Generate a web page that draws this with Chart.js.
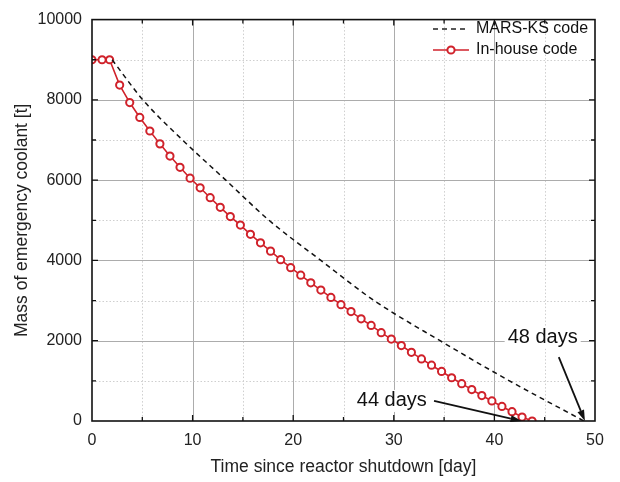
<!DOCTYPE html>
<html>
<head>
<meta charset="utf-8">
<script src="https://cdn.jsdelivr.net/npm/chart.js@4/dist/chart.umd.min.js"></script>
<style>
  html, body { margin: 0; padding: 0; background: #fff; }
  #wrap { width: 620px; height: 482px; }
</style>
</head>
<body>
<div id="wrap"><canvas id="chart1" width="620" height="482"></canvas></div>
<script>
// In-house code: one marker per time step
const inhouseDays = [0, 1, 1.75, 2.75, 3.75, 4.75, 5.75, 6.75, 7.75, 8.75, 9.75,
  10.75, 11.75, 12.75, 13.75, 14.75, 15.75, 16.75, 17.75, 18.75, 19.75,
  20.75, 21.75, 22.75, 23.75, 24.75, 25.75, 26.75, 27.75, 28.75, 29.75,
  30.75, 31.75, 32.75, 33.75, 34.75, 35.75, 36.75, 37.75, 38.75, 39.75,
  40.75, 41.75, 42.75, 43.75];
const inhouseMass = [9000, 9000, 9000, 8370, 7933, 7563, 7225, 6904, 6600, 6321, 6049,
  5810, 5563, 5323, 5094, 4880, 4650, 4438, 4232, 4018, 3820,
  3632, 3442, 3261, 3079, 2899, 2726, 2546, 2380, 2200, 2040,
  1880, 1711, 1547, 1390, 1234, 1078, 930, 782, 634, 500,
  363, 232, 99, 0];

// MARS-KS code (dashed curve)
const marsDays = [2, 5.06, 9.0, 13.3, 17.6, 22.75, 28.05, 34.6, 41.5, 48.9];
const marsMass = [9000, 8000, 7000, 6000, 5000, 4000, 3000, 2000, 1000, 0];

const seriesNames = ["MARS-KS code", "In-house code"];
const xTicks = [0, 10, 20, 30, 40, 50];
const yTicks = [0, 2000, 4000, 6000, 8000, 10000];

// annotation labels with arrow start/end (data units)
const notes = [
  { text: "48 days", tx: 44.8, ty: 2080, x1: 46.4, y1: 1590, x2: 49.0, y2: 0 },
  { text: "44 days", tx: 29.8, ty: 500, x1: 34.0, y1: 500, x2: 42.7, y2: 0 }
];

const RED = "#d0222b";
const FONT = "'Liberation Sans', Arial, sans-serif";

function toXY(xs, ys) {
  return xs.map((x, i) => ({ x: x, y: ys[i] }));
}

// grid, inward ticks, frame, legend and annotations
const decor = {
  id: "decor",
  beforeDatasetsDraw(chart) {
    const ctx = chart.ctx, a = chart.chartArea;
    const xs = chart.scales.x, ys = chart.scales.y;
    ctx.save();
    for (let v = 5; v < 50; v += 5) {
      const px = Math.round(xs.getPixelForValue(v)) + 0.5;
      const major = v % 10 === 0;
      ctx.strokeStyle = major ? "#acacac" : "#cfcfcf";
      ctx.setLineDash(major ? [] : [1.5, 2]);
      ctx.lineWidth = 1;
      ctx.beginPath(); ctx.moveTo(px, a.top); ctx.lineTo(px, a.bottom); ctx.stroke();
    }
    for (let v = 1000; v < 10000; v += 1000) {
      const py = Math.round(ys.getPixelForValue(v)) + 0.5;
      const major = v % 2000 === 0;
      ctx.strokeStyle = major ? "#acacac" : "#cfcfcf";
      ctx.setLineDash(major ? [] : [1.5, 2]);
      ctx.lineWidth = 1;
      ctx.beginPath(); ctx.moveTo(a.left, py); ctx.lineTo(a.right, py); ctx.stroke();
    }
    ctx.restore();
  },
  afterDatasetsDraw(chart) {
    const ctx = chart.ctx, a = chart.chartArea;
    const xs = chart.scales.x, ys = chart.scales.y;
    ctx.save();
    ctx.strokeStyle = "#111";
    ctx.lineWidth = 1.6;
    ctx.setLineDash([]);
    ctx.strokeRect(a.left, a.top, a.right - a.left, a.bottom - a.top);

    // inward ticks on all four sides
    ctx.lineWidth = 1.3;
    for (let v = 5; v < 50; v += 5) {
      const px = xs.getPixelForValue(v);
      const len = v % 10 === 0 ? 6 : 4;
      ctx.beginPath();
      ctx.moveTo(px, a.bottom); ctx.lineTo(px, a.bottom - len);
      ctx.moveTo(px, a.top); ctx.lineTo(px, a.top + len);
      ctx.stroke();
    }
    for (let v = 1000; v < 10000; v += 1000) {
      const py = ys.getPixelForValue(v);
      const len = v % 2000 === 0 ? 6 : 4;
      ctx.beginPath();
      ctx.moveTo(a.left, py); ctx.lineTo(a.left + len, py);
      ctx.moveTo(a.right, py); ctx.lineTo(a.right - len, py);
      ctx.stroke();
    }

    // legend
    ctx.font = "16px " + FONT;
    ctx.textBaseline = "middle";
    ctx.textAlign = "left";
    ctx.fillStyle = "#111";
    ctx.strokeStyle = "#222";
    ctx.lineWidth = 1.5;
    ctx.setLineDash([5, 4]);
    ctx.beginPath(); ctx.moveTo(433, 29); ctx.lineTo(469, 29); ctx.stroke();
    ctx.setLineDash([]);
    ctx.fillText(seriesNames[0], 476, 29);
    ctx.strokeStyle = RED;
    ctx.lineWidth = 1.6;
    ctx.beginPath(); ctx.moveTo(433, 50); ctx.lineTo(469, 50); ctx.stroke();
    ctx.fillStyle = "#fff";
    ctx.lineWidth = 2;
    ctx.beginPath(); ctx.arc(451, 50, 3.6, 0, Math.PI * 2); ctx.fill(); ctx.stroke();
    ctx.fillStyle = "#111";
    ctx.fillText(seriesNames[1], 476, 50);

    // annotations with arrows
    ctx.font = "20px " + FONT;
    ctx.textAlign = "center";
    notes.forEach(n => {
      const tx = xs.getPixelForValue(n.tx), ty = ys.getPixelForValue(n.ty);
      ctx.fillStyle = "#fff";
      const w = ctx.measureText(n.text).width;
      ctx.fillRect(tx - w / 2 - 3, ty - 11, w + 6, 22);
      ctx.fillStyle = "#111";
      ctx.fillText(n.text, tx, ty);
      const x1 = xs.getPixelForValue(n.x1), y1 = ys.getPixelForValue(n.y1);
      const x2 = xs.getPixelForValue(n.x2), y2 = ys.getPixelForValue(n.y2);
      const ang = Math.atan2(y2 - y1, x2 - x1);
      const hl = 11, hw = 3.5;
      const bx = x2 - hl * Math.cos(ang), by = y2 - hl * Math.sin(ang);
      ctx.strokeStyle = "#111";
      ctx.lineWidth = 1.8;
      ctx.beginPath(); ctx.moveTo(x1, y1); ctx.lineTo(bx, by); ctx.stroke();
      ctx.beginPath();
      ctx.moveTo(x2, y2);
      ctx.lineTo(bx + hw * Math.sin(ang), by - hw * Math.cos(ang));
      ctx.lineTo(bx - hw * Math.sin(ang), by + hw * Math.cos(ang));
      ctx.closePath(); ctx.fill();
    });
    ctx.restore();
  }
};

const ctx1 = document.getElementById("chart1").getContext("2d");
const chart1 = new Chart(ctx1, {
  type: "line",
  data: {
    datasets: [
      {
        label: seriesNames[0],
        data: toXY(marsDays, marsMass),
        borderColor: "#111",
        borderWidth: 1.5,
        borderDash: [5, 4],
        pointRadius: 0,
        cubicInterpolationMode: "monotone",
        clip: 0
      },
      {
        label: seriesNames[1],
        data: toXY(inhouseDays, inhouseMass),
        borderColor: RED,
        borderWidth: 1.6,
        pointRadius: 3.6,
        pointBorderWidth: 2,
        pointBackgroundColor: "#fff",
        pointBorderColor: RED,
        tension: 0,
        clip: 0
      }
    ]
  },
  options: {
    responsive: false,
    animation: false,
    layout: { padding: { top: 16, right: 25, left: 0, bottom: 0 } },
    plugins: { legend: { display: false }, tooltip: { enabled: false } },
    scales: {
      x: {
        type: "linear",
        min: 0, max: 50,
        afterBuildTicks: s => { s.ticks = xTicks.map(v => ({ value: v })); },
        afterFit: s => { s.height = 61; },
        grid: { display: false, drawTicks: false },
        border: { display: false },
        ticks: { color: "#222", font: { family: FONT, size: 16 }, padding: 10, maxRotation: 0,
                 callback: v => String(v) },
        title: { display: true, text: "Time since reactor shutdown [day]", color: "#222",
                 font: { family: FONT, size: 17.5 }, padding: { top: 8, bottom: 4 } }
      },
      y: {
        min: 0, max: 10000,
        afterBuildTicks: s => { s.ticks = yTicks.map(v => ({ value: v })); },
        afterFit: s => { s.width = 92; },
        grid: { display: false, drawTicks: false },
        border: { display: false },
        ticks: { color: "#222", font: { family: FONT, size: 16 }, padding: 10,
                 callback: v => String(v) },
        title: { display: true, text: "Mass of emergency coolant [t]", color: "#222",
                 font: { family: FONT, size: 17.5 }, padding: { top: 12, bottom: 4 } }
      }
    }
  },
  plugins: [decor]
});
</script>
</body>
</html>
